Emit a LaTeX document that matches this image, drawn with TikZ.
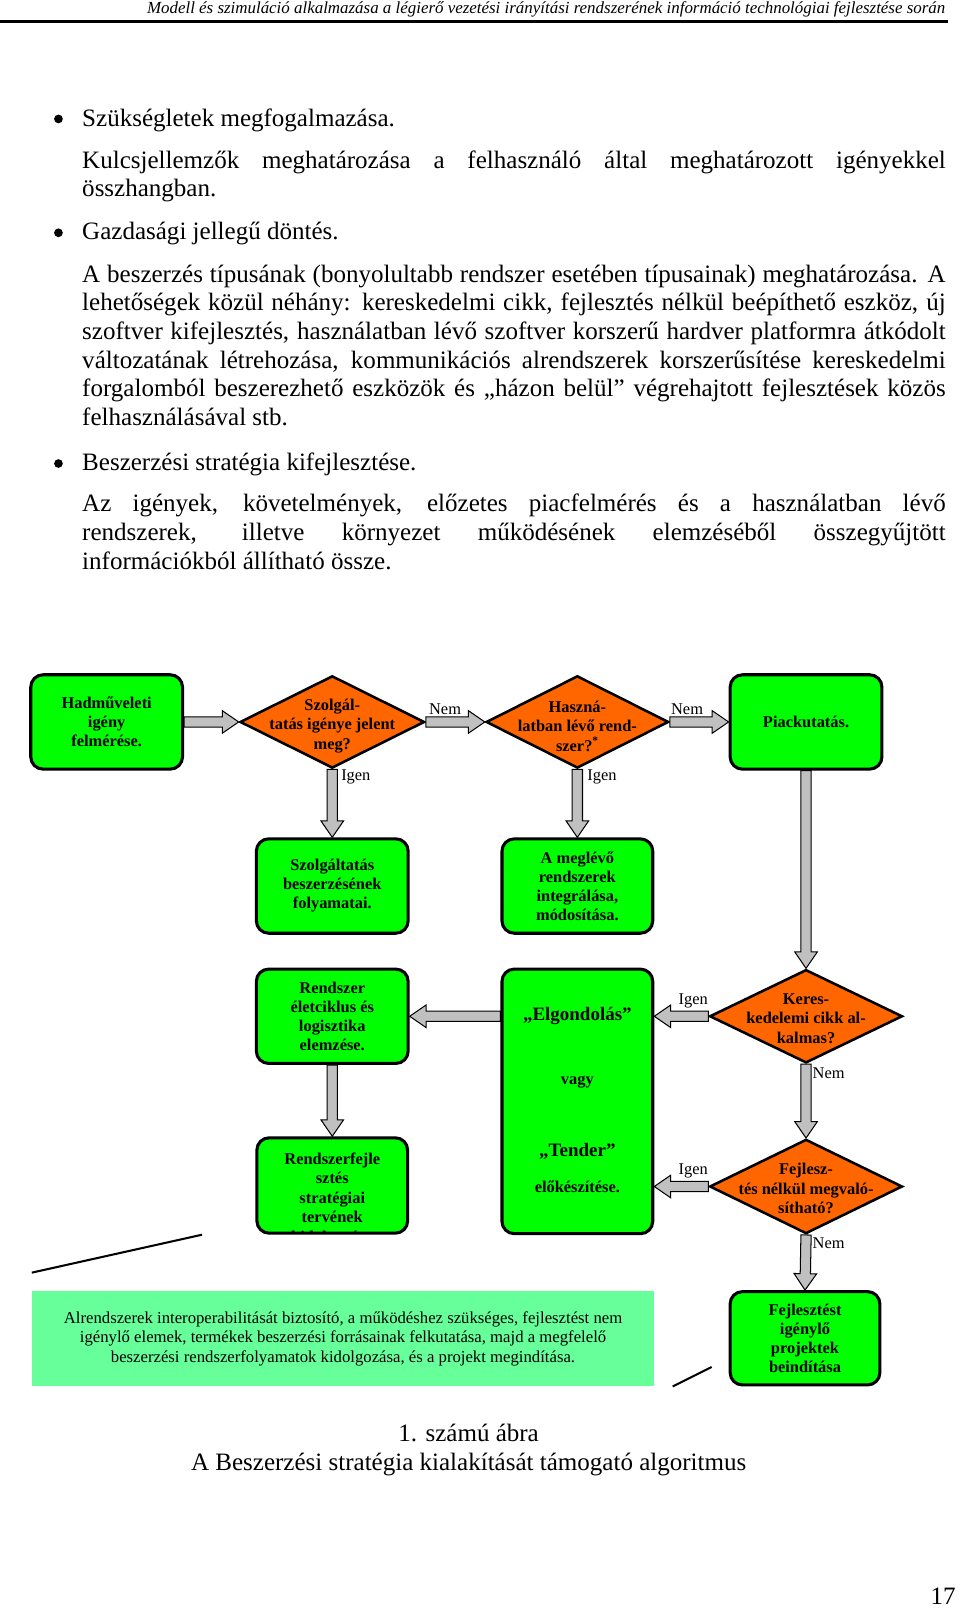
\documentclass[tikz,border=0pt]{standalone}
\usepackage{fontspec}
\setmainfont{Liberation Serif}
\usetikzlibrary{shapes.geometric,calc}

\definecolor{boxgreen}{RGB}{0,255,0}
\definecolor{diaorange}{RGB}{255,102,0}
\definecolor{arrowgray}{RGB}{192,192,192}
\definecolor{notegreen}{RGB}{102,255,153}

\newcommand{\blk}[2]{%
  \path (#1) coordinate (bs) (#2) coordinate (be);
  \path ($(be)!16pt!(bs)$) coordinate (bh);
  \draw[blockarrow] ($(bs)!5pt!90:(be)$) -- ($(bh)!5pt!90:(be)$) -- ($(bh)!11pt!90:(be)$) -- (be)
    -- ($(bh)!11pt!-90:(be)$) -- ($(bh)!5pt!-90:(be)$) -- ($(bs)!5pt!-90:(be)$) -- cycle;
}

\tikzset{
  gbox/.style={draw, line width=3pt, fill=boxgreen, rounded corners=12pt,
    minimum width=148pt, minimum height=92pt, inner sep=0pt, align=center,
    font=\fontsize{16}{18.5}\selectfont\bfseries},
  btext/.style={inner sep=0pt, align=center, font=\fontsize{16}{19}\selectfont\bfseries},
  bigq/.style={inner sep=0pt, align=center, font=\fontsize{18.5}{22}\selectfont\bfseries},
  dia/.style={diamond, draw, line width=2.5pt, fill=diaorange,
    minimum width=180pt, minimum height=90pt, inner sep=0pt},
  dtext/.style={align=center, inner sep=0pt, font=\fontsize{16}{19}\selectfont\bfseries},
  lbl/.style={inner sep=0pt, font=\fontsize{16}{19}\selectfont},
  blockarrow/.style={draw=black, line width=1pt, fill=arrowgray, line join=miter},
  body/.style={anchor=base west, inner sep=0pt, font=\fontsize{24.4}{29}\selectfont},
  bulletdot/.style={circle, fill=black, minimum size=8.5pt, inner sep=0pt},
  notebox/.style={fill=notegreen, minimum width=607pt, minimum height=93pt, inner sep=0pt,
    align=center, font=\fontsize{16.3}{19}\selectfont},
  thinline/.style={line width=2pt},
}

\begin{document}
\begin{tikzpicture}[x=1pt,y=-1pt]
\fill[white] (0,0) rectangle (936,1569);
\useasboundingbox (0,0) rectangle (936,1569);

% header
\node[anchor=base east, inner sep=0pt, font=\fontsize{16.5}{19}\selectfont\itshape] (hdr) at (922,13)
  {Modell és szimuláció alkalmazása a légierő vezetési irányítási rendszerének információ technológiai fejlesztése során};
\coordinate (hl) at (0,21);
\coordinate (hr) at (924,21);
\draw[line width=2.5pt] (hl) -- (hr);

% body text
\node[bulletdot] (b1) at (57,116) {};
\node[body] (t1) at (80,123) {Szükségletek megfogalmazása.};
\node[body] (t2) at (80,164) {\makebox[842pt][s]{Kulcsjellemzők meghatározása a felhasználó által meghatározott igényekkel}};
\node[body] (t3) at (80,192) {összhangban.};
\node[bulletdot] (b2) at (57,227) {};
\node[body] (t4) at (80,234) {Gazdasági jellegű döntés.};
\node[body] (t5) at (80,275) {\makebox[842pt][s]{A beszerzés típusának (bonyolultabb rendszer esetében típusainak) meghatározása. A}};
\node[body] (t6) at (80,303) {\makebox[842pt][s]{lehetőségek közül néhány: kereskedelmi cikk, fejlesztés nélkül beépíthető eszköz, új}};
\node[body] (t7) at (80,331) {\makebox[842pt][s]{szoftver kifejlesztés, használatban lévő szoftver korszerű hardver platformra átkódolt}};
\node[body] (t8) at (80,359) {\makebox[842pt][s]{változatának létrehozása, kommunikációs alrendszerek korszerűsítése kereskedelmi}};
\node[body] (t9) at (80,387) {\makebox[842pt][s]{forgalomból beszerezhető eszközök és „házon belül” végrehajtott fejlesztések közös}};
\node[body] (t10) at (80,415) {felhasználásával stb.};
\node[bulletdot] (b3) at (57,452) {};
\node[body] (t11) at (80,459) {Beszerzési stratégia kifejlesztése.};
\node[body] (t12) at (80,499) {\makebox[842pt][s]{Az igények, követelmények, előzetes piacfelmérés és a használatban lévő}};
\node[body] (t13) at (80,527) {\makebox[842pt][s]{rendszerek, illetve környezet működésének elemzéséből összegyűjtött}};
\node[body] (t14) at (80,555) {információkból állítható össze.};

% flowchart nodes
\node[gbox] (A) at (104,704) {Hadműveleti\\igény\\felmérése.};
\node[dia] (D1) at (324,704) {};
\node[dtext] (D1t) at (324,708) {Szolgál-\\tatás igénye jelent\\meg?};
\node[dia, minimum width=178pt] (D2) at (563,704) {};
\node[dtext] (D2t) at (563,708) {Haszná-\\latban lévő rend-\\szer?\textsuperscript{*}};
\node[gbox] (P) at (786,704) {Piackutatás.};

\node[gbox] (S) at (324,864) {Szolgáltatás\\beszerzésének\\folyamatai.};
\node[gbox, minimum width=147pt] (M) at (563,864) {A meglévő\\rendszerek\\integrálása,\\módosítása.};

\node[gbox] (R) at (324,991) {Rendszer\\életciklus és\\logisztika\\elemzése.};
\node[gbox, minimum width=147pt, minimum height=258pt] (T) at (563,1074) {};
\node[bigq] (T1) at (563,991) {„Elgondolás”};
\node[btext] (T2) at (563,1055) {vagy};
\node[bigq] (T3) at (563,1123) {„Tender”};
\node[btext] (T4) at (563,1157) {előkészítése.};
\node[dia, minimum width=188pt, minimum height=91pt] (D3) at (786,991) {};
\node[dtext] (D3t) at (786,993) {Keres-\\kedelemi cikk al-\\kalmas?};
\node[dia, minimum width=188pt, minimum height=92pt] (D4) at (786,1157) {};
\node[dtext] (D4t) at (786,1159) {Fejlesz-\\tés nélkül megvaló-\\sítható?};

\node[gbox, minimum width=147pt, minimum height=93pt] (RF) at (324,1156) {};
\begin{scope}
  \clip[rounded corners=10pt] ($(RF.south west)+(1.5,-1.5)$) rectangle ($(RF.north east)+(-1.5,1.5)$);
  \node[btext, anchor=north] (RFt) at ($(RF.north)+(0,16)$) {Rendszerfejle\\sztés\\stratégiai\\tervének\\kidolgozása};
\end{scope}

\node[gbox, minimum width=146pt, minimum height=91pt] (F) at (785,1305) {Fejlesztést\\igénylő\\projektek\\beindítása};

\node[notebox] (N) at (334.5,1305.5) {Alrendszerek interoperabilitását biztosító, a működéshez szükséges, fejlesztést nem\\igénylő elemek, termékek beszerzési forrásainak felkutatása, majd a megfelelő\\beszerzési rendszerfolyamatok kidolgozása, és a projekt megindítása.};

% connectors
\blk{A.east}{D1.west}
\blk{D1.east}{D2.west}
\blk{D2.east}{P.west}
\blk{D1.south}{S.north}
\blk{D2.south}{M.north}
\blk{P.south}{D3.north}
\blk{D3.west}{T.east |- D3.west}
\blk{D3.south}{D4.north}
\blk{D4.west}{T.east |- D4.west}
\blk{T.west |- R.east}{R.east}
\blk{R.south}{RF.north}
\blk{D4.south}{F.north}

% labels
\node[lbl] (l1) at (434,692) {Nem};
\node[lbl] (l2) at (670,692) {Nem};
\node[lbl] (l3) at (347,758) {Igen};
\node[lbl] (l4) at (587,758) {Igen};
\node[lbl] (l5) at (676,976) {Igen};
\node[lbl] (l6) at (808,1047) {Nem};
\node[lbl] (l7) at (676,1142) {Igen};
\node[lbl] (l8) at (808,1212) {Nem};

% stray lines
\coordinate (s1a) at (31,1241);
\coordinate (s1b) at (197,1204);
\draw[thinline] (s1a) -- (s1b);
\coordinate (s2a) at (656,1352);
\coordinate (s2b) at (694,1333);
\draw[thinline] (s2a) -- (s2b);

% caption
\node[anchor=base, inner sep=0pt, font=\fontsize{24.4}{29}\selectfont] (c1) at (457,1406) {1. számú ábra};
\node[anchor=base, inner sep=0pt, font=\fontsize{24.4}{29}\selectfont] (c2) at (457,1434) {A Beszerzési stratégia kialakítását támogató algoritmus};
\node[anchor=base east, inner sep=0pt, font=\fontsize{24.4}{29}\selectfont] (pn) at (932,1565) {17};
\end{tikzpicture}
\end{document}
